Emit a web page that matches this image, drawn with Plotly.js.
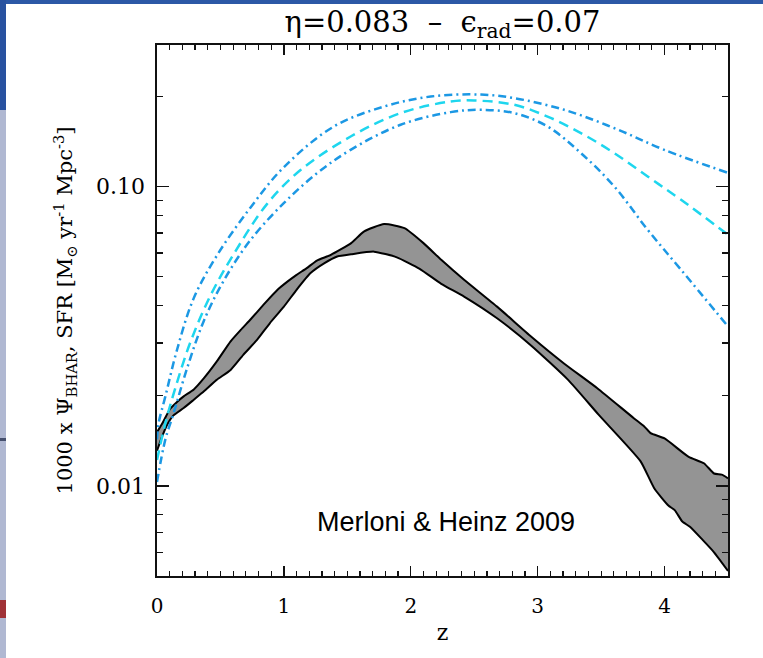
<!DOCTYPE html>
<html>
<head>
<meta charset="utf-8">
<script src="https://cdn.plot.ly/plotly-3.0.1.min.js"></script>
<style>html,body{margin:0;padding:0;background:#fff;}#chart{width:763px;height:658px;}</style>
</head>
<body>
<div id="chart"></div>
<script>
// ---- data ----
// grey band (Merloni & Heinz 2009): upper and lower boundaries
const zUpper = [0.00,0.05,0.10,0.16,0.21,0.29,0.37,0.47,0.58,0.66,0.74,0.84,0.95,1.03,1.10,1.18,1.26,1.37,1.53,1.63,1.79,1.95,2.10,2.24,2.42,2.68,2.95,3.21,3.47,3.76,3.84,3.89,4.00,4.19,4.31,4.39,4.45,4.50];
const bandUpper = [0.0151,0.0164,0.0180,0.0191,0.0199,0.0210,0.0229,0.0260,0.0304,0.0332,0.0361,0.0403,0.0452,0.0482,0.0507,0.0534,0.0566,0.0591,0.0647,0.0707,0.0749,0.0726,0.0647,0.0569,0.0488,0.0397,0.0315,0.0256,0.0212,0.0168,0.0158,0.0150,0.0144,0.0125,0.0119,0.0110,0.0109,0.0106];
const zLower = [0.00,0.04,0.08,0.13,0.21,0.29,0.37,0.47,0.58,0.68,0.79,0.89,1.00,1.10,1.21,1.32,1.42,1.53,1.71,1.89,2.07,2.24,2.42,2.68,2.95,3.24,3.48,3.81,3.92,4.03,4.08,4.14,4.20,4.30,4.39,4.50];
const bandLower = [0.0131,0.0146,0.0160,0.0172,0.0182,0.0194,0.0207,0.0226,0.0244,0.0274,0.0308,0.0350,0.0397,0.0452,0.0514,0.0555,0.0584,0.0594,0.0606,0.0580,0.0531,0.0473,0.0429,0.0363,0.0294,0.0226,0.0173,0.0121,0.0098,0.0086,0.0083,0.0076,0.0073,0.0066,0.0060,0.0052];

// upper dash-dot curve
const zHigh = [0,0.013,0.066,0.158,0.289,0.474,0.736,0.999,1.394,1.789,2.157,2.552,2.815,3.209,3.604,3.998,4.5];
const sfrHigh = [0.0143,0.0162,0.0199,0.0285,0.0423,0.0590,0.0850,0.1160,0.1587,0.1850,0.1998,0.2029,0.1974,0.1804,0.1567,0.1326,0.1111];
// middle dashed curve
const zMid = [0,0.066,0.144,0.263,0.421,0.605,0.868,1.131,1.526,1.920,2.315,2.499,2.815,3.078,3.341,3.604,3.867,4.130,4.5];
const sfrMid = [0.0122,0.0162,0.0212,0.0302,0.0432,0.0595,0.0875,0.1135,0.1469,0.1759,0.1923,0.1938,0.1875,0.1713,0.1508,0.1293,0.1080,0.0903,0.0690];
// lower dash-dot curve
const zLow = [0,0.066,0.131,0.237,0.368,0.526,0.736,0.999,1.263,1.526,1.920,2.315,2.552,2.815,3.078,3.341,3.604,3.867,4.130,4.5];
const sfrLow = [0.0103,0.0143,0.0175,0.0247,0.0355,0.0485,0.0662,0.0880,0.1109,0.1326,0.1608,0.1772,0.1804,0.1759,0.1587,0.1293,0.1000,0.0717,0.0527,0.0341];

// tick labels
const xTickVals = [0,1,2,3,4];
const xTickText = ["0","1","2","3","4"];
const yTickVals = [0.01,0.1];
const yTickText = ["0.01","0.10"];
const yMinorVals = [0.006,0.007,0.008,0.009,0.02,0.03,0.04,0.05,0.06,0.07,0.08,0.09,0.2];

// ---- style ----
const serif = "DejaVu Serif";
const blueDD = "rgb(28,152,228)";
const cyanD = "rgb(30,214,238)";
const bandGrey = "rgb(148,148,148)";

const traces = [
  {x: zLower, y: bandLower, mode: "lines", type: "scatter",
   line: {color: "#000", width: 2, shape: "spline", smoothing: 0.5}, hoverinfo: "skip", showlegend: false},
  {x: zUpper, y: bandUpper, mode: "lines", type: "scatter", fill: "tonexty", fillcolor: bandGrey,
   line: {color: "#000", width: 2, shape: "spline", smoothing: 0.5}, hoverinfo: "skip", showlegend: false},
  {x: zHigh, y: sfrHigh, mode: "lines", type: "scatter",
   line: {color: blueDD, width: 2.5, dash: "8px,4px,2px,4px", shape: "spline", smoothing: 1}, showlegend: false},
  {x: zMid, y: sfrMid, mode: "lines", type: "scatter",
   line: {color: cyanD, width: 2.5, dash: "10px,6px", shape: "spline", smoothing: 1}, showlegend: false},
  {x: zLow, y: sfrLow, mode: "lines", type: "scatter",
   line: {color: blueDD, width: 2.5, dash: "8px,4px,2px,4px", shape: "spline", smoothing: 1}, showlegend: false}
];

// plot-area geometry in pixels (for decorative frame shapes outside the plot)
const L = 157, T = 45, W = 571, H = 531;
const px = v => (v - L) / W;
const py = v => (T + H - v) / H;
const deco = [
  {x0: 0, x1: 763, y0: 0, y1: 4, c: "rgb(44,88,166)"},
  {x0: 0, x1: 6, y0: 0, y1: 110, c: "rgb(40,82,160)"},
  {x0: 0, x1: 6, y0: 110, y1: 658, c: "rgb(176,184,210)"},
  {x0: 0, x1: 6, y0: 438, y1: 441, c: "rgb(70,80,110)"},
  {x0: 0, x1: 6, y0: 600, y1: 618, c: "rgb(160,50,55)"}
];
const shapes = deco.map(d => ({type: "rect", xref: "paper", yref: "paper",
  x0: px(d.x0), x1: px(d.x1), y0: py(d.y1), y1: py(d.y0),
  fillcolor: d.c, line: {width: 0}, layer: "above"}));

const layout = {
  width: 763, height: 658,
  margin: {l: L, r: 763 - L - W, t: T, b: 658 - T - H, pad: 0},
  paper_bgcolor: "#fff", plot_bgcolor: "#fff",
  showlegend: false,
  title: {text: "η=0.083  –  ϵ<sub>rad</sub>=0.07", font: {family: serif, size: 29, color: "#000"},
          x: 0.5, xref: "paper", xanchor: "center", y: 1 - 22/658, yref: "container", yanchor: "middle"},
  xaxis: {
    range: [0, 4.5], showgrid: false, zeroline: false,
    showline: true, linecolor: "#111", linewidth: 1.6, mirror: "allticks",
    ticks: "inside", ticklen: 10, tickwidth: 1.4, tickcolor: "#111",
    tickvals: xTickVals, ticktext: xTickText, ticklabelstandoff: 11,
    tickfont: {family: serif, size: 20, color: "#000"},
    minor: {dtick: 0.1, tick0: 0, ticks: "inside", ticklen: 5, tickwidth: 1.2, tickcolor: "#111", showgrid: false},
    title: {text: "z", font: {family: serif, size: 22, color: "#000"}, standoff: 8}
  },
  yaxis: {
    type: "log", range: [Math.log10(0.005), Math.log10(0.297)], showgrid: false, zeroline: false,
    showline: true, linecolor: "#111", linewidth: 1.6, mirror: "allticks",
    ticks: "inside", ticklen: 12, tickwidth: 1.4, tickcolor: "#111",
    tickvals: yTickVals, ticktext: yTickText, ticklabelstandoff: 6,
    tickfont: {family: serif, size: 22, color: "#000"},
    minor: {tickvals: yMinorVals, ticks: "inside", ticklen: 6, tickwidth: 1.2, tickcolor: "#111", showgrid: false},
    title: {text: "1000 x Ψ<sub>BHAR</sub>, SFR [M<sub>⊙</sub> yr<sup>-1</sup> Mpc<sup>-3</sup>]",
            font: {family: serif, size: 21, color: "#000"}, standoff: 17}
  },
  annotations: [{
    text: "Merloni & Heinz 2009", xref: "x", yref: "paper", x: 2.28, y: py(522),
    xanchor: "center", yanchor: "middle", showarrow: false,
    font: {family: "Liberation Sans", size: 27, color: "#000"}
  }],
  shapes: shapes
};

Plotly.newPlot("chart", traces, layout, {staticPlot: true, displayModeBar: false});
</script>
</body>
</html>
